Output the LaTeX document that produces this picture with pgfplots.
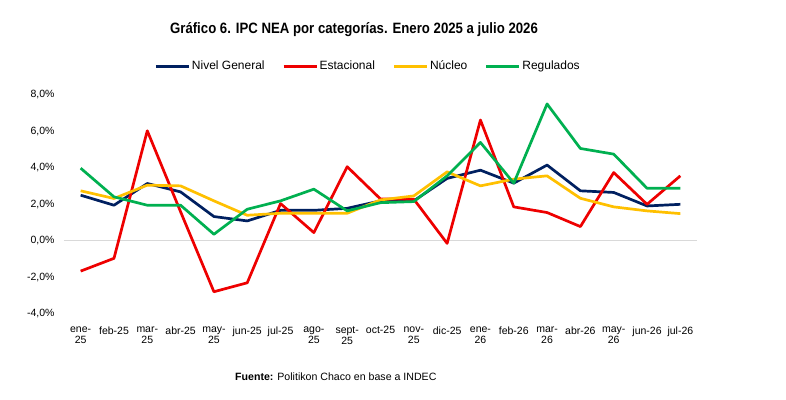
\documentclass[border=0pt]{standalone}
\usepackage{pgfplots}
\pgfplotsset{compat=1.18}
\usepackage{fontspec}
\setmainfont{Liberation Sans}
\newfontfamily\condbold[FakeStretch=0.88]{Liberation Sans Bold}
\definecolor{cNG}{RGB}{0,32,96}
\definecolor{cEst}{RGB}{238,0,0}
\definecolor{cNuc}{RGB}{255,192,0}
\definecolor{cReg}{RGB}{0,176,80}
\begin{document}
\begin{tikzpicture}
\useasboundingbox[fill=white] (0,0) rectangle (786bp,400bp);
\begin{axis}[
  at={(64bp,86bp)}, anchor=south west,
  scale only axis, width=633bp, height=219bp,
  xmin=-0.5, xmax=18.5, ymin=-4, ymax=8,
  axis line style={draw=none},
  ytick={-4,-2,0,2,4,6,8},
  xtick={0,...,18},
  xticklabels={{ene-\\25},{feb-25},{mar-\\25},{abr-25},{may-\\25},{jun-25},{jul-25},{ago-\\25},{sept-\\25},{oct-25},{nov-\\25},{dic-25},{ene-\\26},{feb-26},{mar-\\26},{abr-26},{may-\\26},{jun-26},{jul-26}},
  major tick length=0pt,
  /pgf/number format/assume math mode=true,
  yticklabel={\pgfmathprintnumber[fixed,fixed zerofill,precision=1,use comma]{\tick}\%},
  yticklabel style={font=\fontsize{10.5bp}{12bp}\selectfont, xshift=-6bp},
  xticklabel style={font=\fontsize{10.5bp}{11bp}\selectfont, align=center, anchor=north, yshift=-9bp},
  legend columns=4,
  legend style={draw=none, fill=none, at={(0.48,1.132)}, anchor=center,
    font=\fontsize{12bp}{14bp}\selectfont,
    /tikz/every even column/.append style={column sep=16bp},
    inner sep=0pt, nodes={inner sep=1.5bp}},
  legend image code/.code={\draw[#1, line width=3bp] (0,0) -- (33bp,0);},
  every axis plot/.append style={line width=2.7bp, line join=round},
  clip=false,
]
\draw[gray!30, line width=1bp] (axis cs:-0.5,0) -- (axis cs:18.5,0);
\addplot[cNG, mark=none] coordinates {(0,2.51)(1,1.96)(2,3.15)(3,2.69)(4,1.34)(5,1.10)(6,1.68)(7,1.68)(8,1.79)(9,2.20)(10,2.20)(11,3.43)(12,3.88)(13,3.17)(14,4.16)(15,2.75)(16,2.66)(17,1.92)(18,2.01)};
\addplot[cEst, mark=none] coordinates {(0,-1.65)(1,-0.95)(2,6.04)(3,1.6)(4,-2.78)(5,-2.29)(6,2.05)(7,0.46)(8,4.07)(9,2.3)(10,2.29)(11,-0.13)(12,6.63)(13,1.87)(14,1.56)(15,0.79)(16,3.75)(17,2.01)(18,3.57)};
\addplot[cNuc, mark=none] coordinates {(0,2.75)(1,2.33)(2,3.06)(3,3.02)(4,2.2)(5,1.41)(6,1.52)(7,1.52)(8,1.52)(9,2.25)(10,2.47)(11,3.79)(12,3.02)(13,3.39)(14,3.57)(15,2.34)(16,1.87)(17,1.65)(18,1.5)};
\addplot[cReg, mark=none] coordinates {(0,3.99)(1,2.42)(2,1.96)(3,1.96)(4,0.37)(5,1.74)(6,2.2)(7,2.84)(8,1.65)(9,2.1)(10,2.16)(11,3.57)(12,5.4)(13,3.17)(14,7.51)(15,5.07)(16,4.76)(17,2.89)(18,2.89)};
\legend{Nivel General,Estacional,Núcleo,Regulados}
\end{axis}
\node[font=\condbold\fontsize{15bp}{17bp}\selectfont, inner sep=0pt] at (354bp,370bp) {Gráfico 6. IPC NEA por categorías. Enero 2025 a julio 2026};
\node[font=\fontsize{10.6bp}{13bp}\selectfont, anchor=west, inner sep=0pt] at (235bp,23bp) {\textbf{Fuente:} Politikon Chaco en base a INDEC};
\end{tikzpicture}
\end{document}
